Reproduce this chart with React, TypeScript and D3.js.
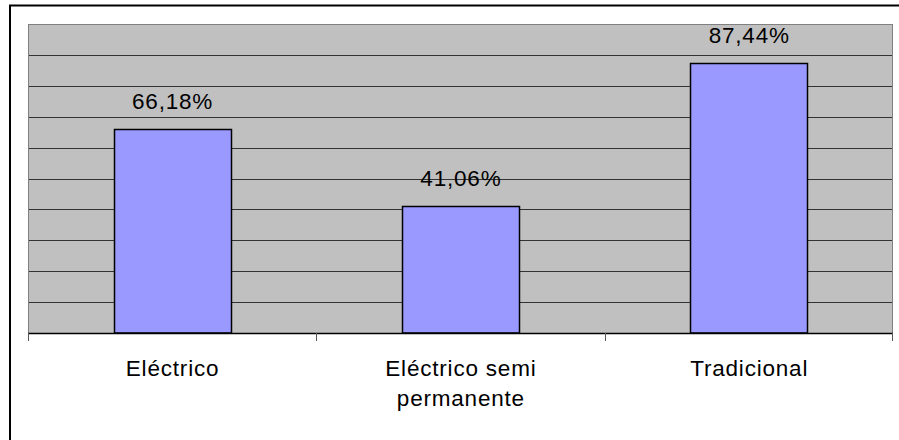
import React from "react";
import * as d3 from "d3";

const categories: string[][] = [["Eléctrico"], ["Eléctrico semi", "permanente"], ["Tradicional"]];
const values: number[] = [66.18, 41.06, 87.44];
const valueLabels: string[] = ["66,18%", "41,06%", "87,44%"];
const yTicks: number[] = [0, 10, 20, 30, 40, 50, 60, 70, 80, 90, 100];

const W = 899;
const H = 440;
const plot = { left: 28, right: 893, top: 24, bottom: 333 };

export default function App() {
  const keys = categories.map((_, i) => String(i));
  const x = d3.scaleBand<string>().domain(keys).range([plot.left, plot.right]).padding(0);
  const y = d3.scaleLinear().domain([0, 100]).range([plot.bottom, plot.top]);
  const bw = x.bandwidth() * 0.405;
  const font = "'Liberation Sans', Arial, sans-serif";
  const fs = 22.5;
  const ls = 0.8;
  return (
    <svg width={W} height={H} style={{ position: "absolute", left: 0, top: 0, background: "#fff" }}>
      <rect x={10} y={5.5} width={W + 20} height={H + 20} fill="#fff" stroke="#000" strokeWidth={2} />
      <rect x={plot.left} y={plot.top} width={plot.right - plot.left} height={plot.bottom - plot.top} fill="#C0C0C0" />
      {yTicks.slice(1, -1).map((t) => (
        <line key={t} x1={plot.left} x2={plot.right} y1={Math.round(y(t)) + 0.5} y2={Math.round(y(t)) + 0.5} stroke="#333" strokeWidth={1} />
      ))}
      <rect x={plot.left + 0.5} y={plot.top + 0.5} width={plot.right - plot.left - 1} height={plot.bottom - plot.top} fill="none" stroke="#808080" strokeWidth={1} />
      {values.map((v, i) => {
        const cx = (x(String(i)) as number) + x.bandwidth() / 2;
        const x0 = Math.round(cx - bw / 2) + 0.5;
        const yt = Math.round(y(v)) + 0.5;
        return (
          <g key={i}>
            <rect x={x0} y={yt} width={Math.round(bw)} height={plot.bottom - yt} fill="#9999FF" stroke="#000" strokeWidth={1.5} />
            <text x={cx + ls / 2} y={y(v) - 20} textAnchor="middle" fontFamily={font} fontSize={fs} letterSpacing={ls} fill="#000">{valueLabels[i]}</text>
          </g>
        );
      })}
      <line x1={plot.left} x2={plot.right} y1={plot.bottom + 0.5} y2={plot.bottom + 0.5} stroke="#000" strokeWidth={1.5} />
      {d3.range(categories.length + 1).map((k) => {
        const tx = Math.round(plot.left + k * x.step()) + (k === categories.length ? -0.5 : 0.5);
        return <line key={k} x1={tx} x2={tx} y1={plot.bottom} y2={plot.bottom + 8} stroke="#555" strokeWidth={1} />;
      })}
      {categories.map((lines, i) => {
        const cx = (x(String(i)) as number) + x.bandwidth() / 2;
        return (
          <text key={i} textAnchor="middle" fontFamily={font} fontSize={fs} letterSpacing={ls} fill="#000">
            {lines.map((l, j) => (
              <tspan key={j} x={cx + ls / 2} y={376 + j * 30}>{l}</tspan>
            ))}
          </text>
        );
      })}
    </svg>
  );
}
